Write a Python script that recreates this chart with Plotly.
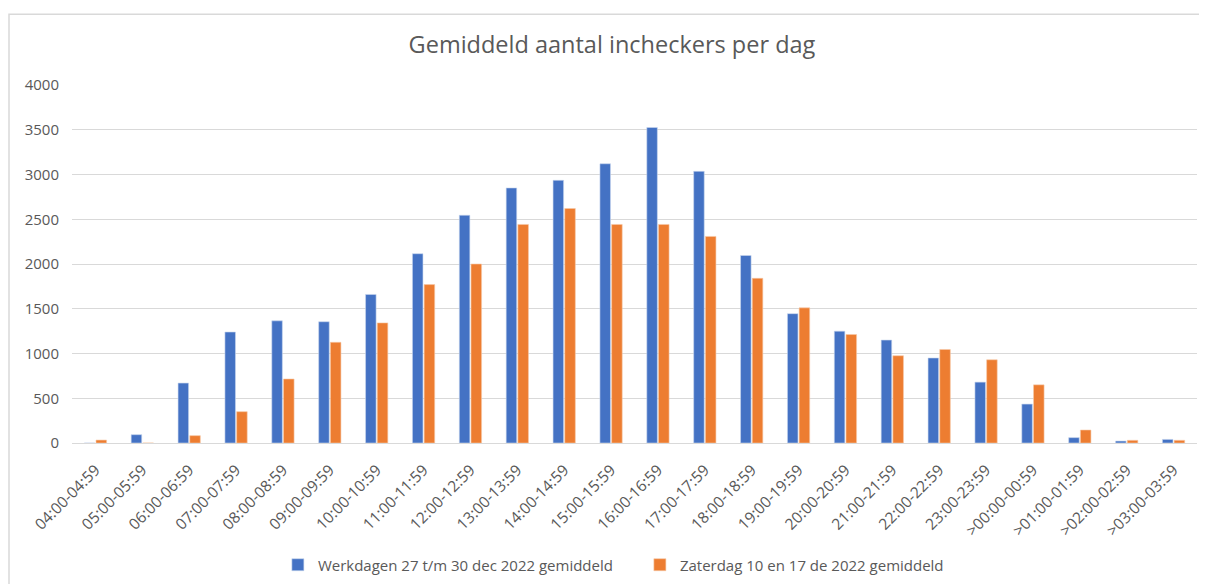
import plotly.graph_objects as go

# Uurvakken en gemiddelde aantallen incheckers
uren = ['04:00-04:59', '05:00-05:59', '06:00-06:59', '07:00-07:59', '08:00-08:59',
        '09:00-09:59', '10:00-10:59', '11:00-11:59', '12:00-12:59', '13:00-13:59',
        '14:00-14:59', '15:00-15:59', '16:00-16:59', '17:00-17:59', '18:00-18:59',
        '19:00-19:59', '20:00-20:59', '21:00-21:59', '22:00-22:59', '23:00-23:59',
        '>00:00-00:59', '>01:00-01:59', '>02:00-02:59', '>03:00-03:59']

werkdagen = [0, 93, 670, 1240, 1365, 1355, 1660, 2115, 2545, 2850,
             2935, 3120, 3525, 3035, 2095, 1445, 1250, 1150, 950, 680,
             435, 60, 22, 40]

zaterdag = [33, 0, 82, 350, 715, 1125, 1342, 1770, 2000, 2442,
            2620, 2442, 2442, 2308, 1840, 1510, 1212, 975, 1045, 930,
            650, 145, 30, 30]

naam_werk = 'Werkdagen 27 t/m 30 dec 2022 gemiddeld'
naam_zat = 'Zaterdag 10 en 17 de 2022 gemiddeld'

blauw = '#4472C4'
oranje = '#ED7D31'
grijs = '#595959'
font_fam = 'Open Sans, sans-serif'

fig = go.Figure()
fig.add_trace(go.Bar(x=uren, y=werkdagen, name=naam_werk,
                     marker=dict(color=blauw, line=dict(color='#c9d6ee', width=0.6))))
fig.add_trace(go.Bar(x=uren, y=zaterdag, name=naam_zat,
                     marker=dict(color=oranje, line=dict(color='#f6c9a8', width=0.6))))

# Grijze rand rond de grafiek (zoals in Excel)
fig.add_shape(type='rect', xref='paper', yref='paper',
              x0=-63 / 1125, x1=1.2, y0=-0.5, y1=1 + 71 / 359,
              line=dict(color='#d9d9d9', width=1.5), fillcolor='rgba(0,0,0,0)')

fig.update_yaxes(
    range=[0, 4000],
    dtick=500,
    automargin=False,
    showgrid=True,
    gridcolor='#d9d9d9',
    gridwidth=1,
    zeroline=True,
    zerolinecolor='#d9d9d9',
    zerolinewidth=1,
    showline=False,
    ticks='',
    tickfont=dict(size=15, color=grijs, family=font_fam),
    ticklabelstandoff=12,
)

fig.update_xaxes(
    tickangle=-45,
    automargin=False,
    showgrid=False,
    showline=False,
    ticks='',
    tickfont=dict(size=15.5, color=grijs, family=font_fam),
    ticklabelstandoff=14,
)

fig.update_layout(
    width=1207,
    height=584,
    margin=dict(l=64, r=18, t=77, b=148),
    barmode='group',
    bargap=0.5,
    bargroupgap=0.1,
    plot_bgcolor='white',
    paper_bgcolor='white',
    title=dict(text='Gemiddeld aantal incheckers per dag', x=0.5004, xanchor='center',
               y=0.9366, yanchor='middle',
               font=dict(size=23.5, color=grijs, family=font_fam)),
    legend=dict(orientation='h', x=0.183, xanchor='left', y=-0.337, yanchor='middle',
                font=dict(size=15, color=grijs, family=font_fam),
                itemwidth=30, entrywidthmode='pixels', entrywidth=317),
    showlegend=True,
)

fig.write_html('out.html')
